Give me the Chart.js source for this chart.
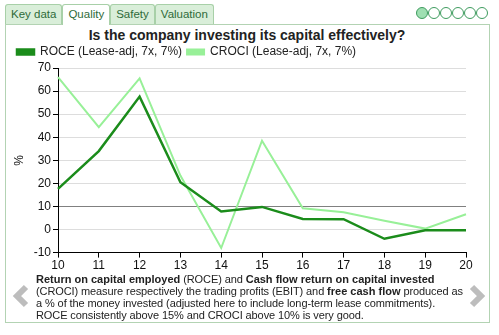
<!DOCTYPE html>
<html>
<head>
<meta charset="utf-8">
<script src="https://cdn.jsdelivr.net/npm/chart.js@4"></script>
<style>
  html, body { margin: 0; padding: 0; background: #fff; }
  body { width: 499px; height: 335px; position: relative; overflow: hidden; font-family: "Liberation Sans", Arial, sans-serif; }
  .tabs { position: absolute; left: 5px; top: 4px; height: 21px; display: flex; }
  .tab { height: 19px; line-height: 19px; padding: 0 5px; font-size: 11.5px; color: #2f6b3a; background: #d9eed9; border: 1px solid #a8d0a8; border-bottom: none; border-radius: 3px 3px 0 0; }
  .tab.active { background: #fff; height: 20px; position: relative; z-index: 2; }
  .panel { position: absolute; left: 5px; top: 24px; width: 483px; height: 297px; border: 1px solid #b3d3b3; }
  .dots { position: absolute; top: 7px; left: 416px; display: flex; }
  .dot { width: 10px; height: 10px; border: 1px solid #3f9c5f; border-radius: 50%; box-sizing: content-box; background: #fff; }
  .dot.on { background: #9fdfb2; }
  .title { position: absolute; top: 27px; left: 0; width: 494px; text-align: center; font-weight: bold; font-size: 14px; color: #222; }
  #wrap { position: absolute; left: 0; top: 41px; width: 499px; height: 233px; }
  .foot { position: absolute; left: 36px; top: 273px; width: 460px; font-size: 11px; line-height: 12px; color: #222; white-space: nowrap; letter-spacing: -0.1px; }
  .foot b { font-weight: bold; letter-spacing: 0; }
  .arrow { position: absolute; top: 284px; }
</style>
</head>
<body>
<div class="panel"></div>
<div class="tabs">
  <div class="tab">Key data</div>
  <div class="tab active">Quality</div>
  <div class="tab">Safety</div>
  <div class="tab">Valuation</div>
</div>
<div class="dots">
  <div class="dot on"></div><div class="dot"></div><div class="dot"></div><div class="dot"></div><div class="dot"></div><div class="dot"></div>
</div>
<div class="title">Is the company investing its capital effectively?</div>
<div id="wrap"><canvas id="c"></canvas></div>
<div class="foot"><b>Return on capital employed</b> (ROCE) and <b>Cash flow return on capital invested</b><br>(CROCI) measure respectively the trading profits (EBIT) and <b>free cash flow</b> produced as<br>a % of the money invested (adjusted here to include long-term lease commitments).<br>ROCE consistently above 15% and CROCI above 10% is very good.</div>
<svg class="arrow" style="left:12px" width="18" height="24" viewBox="0 0 18 24"><polyline points="14,3 5,12 14,21" fill="none" stroke="#bdbdbd" stroke-width="6"/></svg>
<svg class="arrow" style="left:468px" width="18" height="24" viewBox="0 0 18 24"><polyline points="4,3 13,12 4,21" fill="none" stroke="#bdbdbd" stroke-width="6"/></svg>
<script>
// Fiscal years (two-digit) and the two return measures, in %
const years = ['10', '11', '12', '13', '14', '15', '16', '17', '18', '19', '20'];
const roce  = [17.6, 34.0, 57.6, 20.5, 7.8, 9.8, 4.6, 4.5, -4.0, -0.3, -0.3];
const croci = [66.0, 44.4, 65.5, 23.4, -8.0, 38.5, 9.2, 7.5, 3.8, 0.4, 6.6];
const yTicks = [-10, 0, 10, 20, 30, 40, 50, 60, 70];

const FONT = '"Liberation Sans", Arial, sans-serif';

new Chart(document.getElementById('c'), {
  type: 'line',
  data: {
    labels: years,
    datasets: [
      { label: 'ROCE (Lease-adj, 7x, 7%)', data: roce, borderColor: '#1b8c1b', backgroundColor: '#1b8c1b', borderWidth: 2.5, pointRadius: 0, tension: 0 },
      { label: 'CROCI (Lease-adj, 7x, 7%)', data: croci, borderColor: '#98f098', backgroundColor: '#98f098', borderWidth: 2, pointRadius: 0, tension: 0 }
    ]
  },
  options: {
    responsive: true,
    maintainAspectRatio: false,
    animation: false,
    layout: { padding: { left: 12, right: 33, top: 0, bottom: 0 } },
    plugins: {
      legend: {
        align: 'start',
        labels: { boxWidth: 17, boxHeight: 5, padding: 5, color: '#222', font: { family: FONT, size: 12 } }
      },
      tooltip: { enabled: false }
    },
    scales: {
      x: {
        offset: false,
        grid: { drawOnChartArea: false, drawTicks: true, tickLength: 5, tickColor: '#000' },
        border: { color: '#000', width: 1 },
        ticks: { color: '#111', padding: 1, maxRotation: 0, font: { family: FONT, size: 12 } }
      },
      y: {
        min: -10, max: 70,
        afterBuildTicks: s => { s.ticks = yTicks.map(v => ({ value: v })); },
        afterFit: s => { s.width = 46; },
        title: { display: true, text: '%', color: '#111', padding: { top: 0, bottom: 4 }, font: { family: FONT, size: 12 } },
        grid: {
          color: c => (c.tick && c.tick.value === 10) ? '#808080' : '#dddddd',
          tickColor: '#000', tickLength: 5, drawTicks: true
        },
        border: { color: '#000', width: 1 },
        ticks: { color: '#111', padding: 2, font: { family: FONT, size: 12 } }
      }
    }
  }
});
</script>
</body>
</html>
